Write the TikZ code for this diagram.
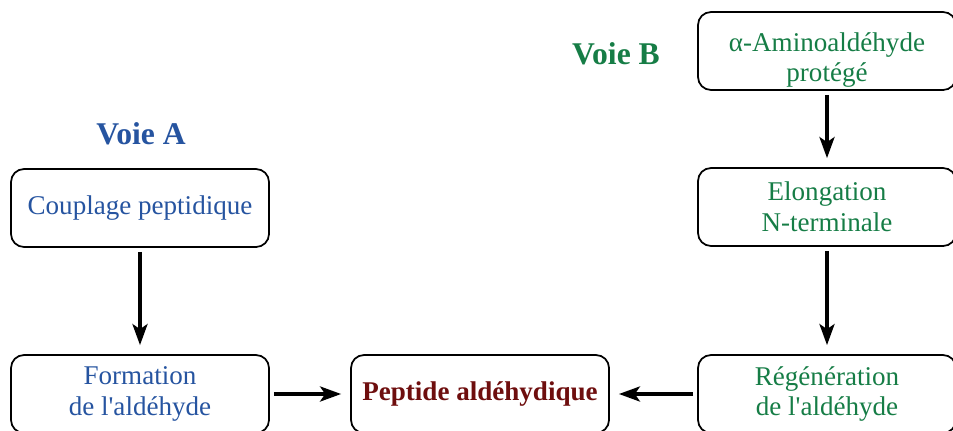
\documentclass[tikz,border=0pt]{standalone}
\usepackage{fontspec}
\setmainfont{Liberation Serif}
\usepackage{tikz}
\usetikzlibrary{arrows.meta}
\definecolor{voieA}{RGB}{38,84,160}
\definecolor{voieB}{RGB}{22,125,70}
\definecolor{pepred}{RGB}{110,14,14}
\tikzset{
	etape/.style={draw, rounded corners=0.26cm, line width=1pt, align=center,
		minimum width=5.16cm, minimum height=1.56cm, font=\fontsize{15.4}{17.5}\selectfont},
	voie/.style={font=\fontsize{18}{21}\selectfont\bfseries},
	fl/.style={-{Stealth[length=0.42cm, width=0.3cm, inset=0.1cm]}, line width=2pt,
		shorten <=0.08cm, shorten >=0.18cm}
}

\begin{document}
\begin{tikzpicture}
	\useasboundingbox (0,0) rectangle (19.06,-8.6);
	\node[voie, text=voieA] (0) at (2.82, -2.68) {Voie A};
	\node[voie, text=voieB] (1) at (12.32, -1.08) {Voie B};
	\node[etape, text=voieA] (2) at (2.8, -4.16) {Couplage peptidique};
	\node[etape, text=voieA] (3) at (2.8, -7.88) {Formation\\de l\textquotesingle ald\'ehyde};
	\node[etape, text=pepred, font=\fontsize{15.4}{17.5}\selectfont\bfseries] (4) at (9.6, -7.88) {Peptide aldéhydique};
	\node[etape, inner ysep=0pt, text=voieB] (5) at (16.54, -1.02) {\rule{0pt}{0.74cm}α-Aminoaldéhyde\\protégé};
	\node[etape, text=voieB] (6) at (16.54, -4.14) {Elongation\\N-terminale};
	\node[etape, text=voieB] (7) at (16.54, -7.88) {Régénération\\de l\textquotesingle aldéhyde};
	\draw [fl] (2) to (3);
	\draw [fl] (3) to (4);
	\draw [fl] (5) to (6);
	\draw [fl] (6) to (7);
	\draw [fl] (7) to (4);
\end{tikzpicture}
\end{document}
